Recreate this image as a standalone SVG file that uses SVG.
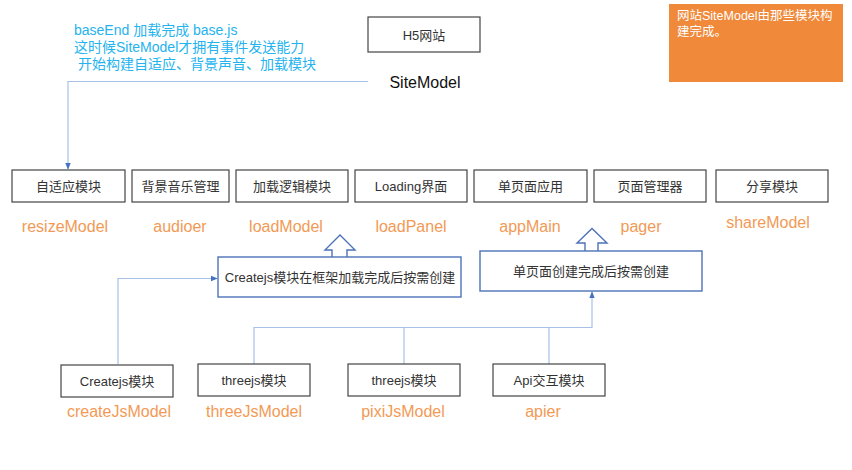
<svg xmlns="http://www.w3.org/2000/svg" width="852" height="470" viewBox="0 0 852 470">
<defs>
<style>
text{font-family:"Liberation Sans","Noto Sans CJK SC",sans-serif}
.box{fill:#fff;stroke:#444;stroke-width:1.2}
.bt{font-size:13px;fill:#333;text-anchor:middle}
.lbl{font-size:16px;fill:#f29a55;text-anchor:middle}
.blue{font-size:14px;fill:#25b3ee}
.con{fill:none;stroke:#a9c0e6;stroke-width:1.2}
.hb{fill:#fff;stroke:#4d72b8;stroke-width:1.4}
</style>
<marker id="ah" viewBox="0 0 10 10" refX="9" refY="5" markerWidth="7" markerHeight="7" orient="auto" markerUnits="userSpaceOnUse">
<path d="M0,1 L10,5 L0,9 z" fill="#4472c4"/>
</marker>
</defs>
<rect width="852" height="470" fill="#fff"/>

<g id="note-top">
<text class="blue" x="74" y="35">baseEnd 加载完成 base.js</text>
<text class="blue" x="74" y="52">这时候SiteModel才拥有事件发送能力</text>
<text class="blue" x="78" y="69">开始构建自适应、背景声音、加载模块</text>
</g>

<g id="h5">
<rect class="box" x="368" y="17" width="112" height="35"/>
<text class="bt" x="424" y="39.5">H5网站</text>
</g>
<g id="sitemodel">
<text x="425" y="87.5" font-size="16" fill="#111" text-anchor="middle">SiteModel</text>
</g>

<g id="note-orange">
<rect x="669" y="4" width="174" height="78" fill="#f0893a"/>
<text x="677" y="19.5" font-size="12.5" fill="#fff">网站SiteModel由那些模块构</text>
<text x="677" y="36" font-size="12.5" fill="#fff">建完成。</text>
</g>

<g id="connectors">
<path class="con" d="M368,81.5 H68 V169" marker-end="url(#ah)"/>
<path class="con" d="M118,364 V278.5 H217" marker-end="url(#ah)"/>
<path class="con" d="M254,364 V327.5 H592 V292" marker-end="url(#ah)"/>
<path class="con" d="M404,364 V327.5"/>
<path class="con" d="M549,364 V327.5"/>
<path class="hb" d="M332,257 V250 H325 L340,235 L355,250 H347 V257"/>
<path class="hb" d="M585,251 V243 H577 L592,228.5 L607,243 H598 V251"/>
</g>

<g id="m-resize"><rect class="box" x="12" y="170" width="113" height="32"/><text class="bt" x="68.5" y="190.5">自适应模块</text><text class="lbl" x="65" y="231.5">resizeModel</text></g>
<g id="m-audio"><rect class="box" x="132" y="170" width="97" height="32"/><text class="bt" x="180.5" y="190.5">背景音乐管理</text><text class="lbl" x="180" y="231.5">audioer</text></g>
<g id="m-load"><rect class="box" x="236" y="170" width="112" height="32"/><text class="bt" x="292" y="190.5">加载逻辑模块</text><text class="lbl" x="286" y="231.5">loadModel</text></g>
<g id="m-loadpanel"><rect class="box" x="355" y="170" width="112" height="32"/><text class="bt" x="411" y="190.5">Loading界面</text><text class="lbl" x="411" y="231.5">loadPanel</text></g>
<g id="m-app"><rect class="box" x="474" y="170" width="113" height="32"/><text class="bt" x="530.5" y="190.5">单页面应用</text><text class="lbl" x="530" y="231.5">appMain</text></g>
<g id="m-pager"><rect class="box" x="594" y="170" width="112" height="32"/><text class="bt" x="650" y="190.5">页面管理器</text><text class="lbl" x="641" y="231.5">pager</text></g>
<g id="m-share"><rect class="box" x="716" y="170" width="112" height="32"/><text class="bt" x="772" y="190.5">分享模块</text><text class="lbl" x="768" y="227.5">shareModel</text></g>

<g id="createjs-note"><rect class="hb" x="218" y="257" width="243" height="40"/><text class="bt" x="340" y="281.5">Createjs模块在框架加载完成后按需创建</text></g>
<g id="page-note"><rect class="hb" x="480" y="251" width="222" height="40"/><text class="bt" x="591" y="275.5">单页面创建完成后按需创建</text></g>

<g id="m-createjs"><rect class="box" x="61" y="365" width="112" height="32"/><text class="bt" x="117" y="385.5">Createjs模块</text><text class="lbl" x="119" y="417">createJsModel</text></g>
<g id="m-three"><rect class="box" x="198" y="364" width="112" height="32"/><text class="bt" x="254" y="384.5">threejs模块</text><text class="lbl" x="254" y="417">threeJsModel</text></g>
<g id="m-pixi"><rect class="box" x="348" y="364" width="112" height="32"/><text class="bt" x="404" y="384.5">threejs模块</text><text class="lbl" x="403" y="417">pixiJsModel</text></g>
<g id="m-api"><rect class="box" x="493" y="364" width="112" height="32"/><text class="bt" x="549" y="384.5">Api交互模块</text><text class="lbl" x="543" y="417">apier</text></g>
</svg>
